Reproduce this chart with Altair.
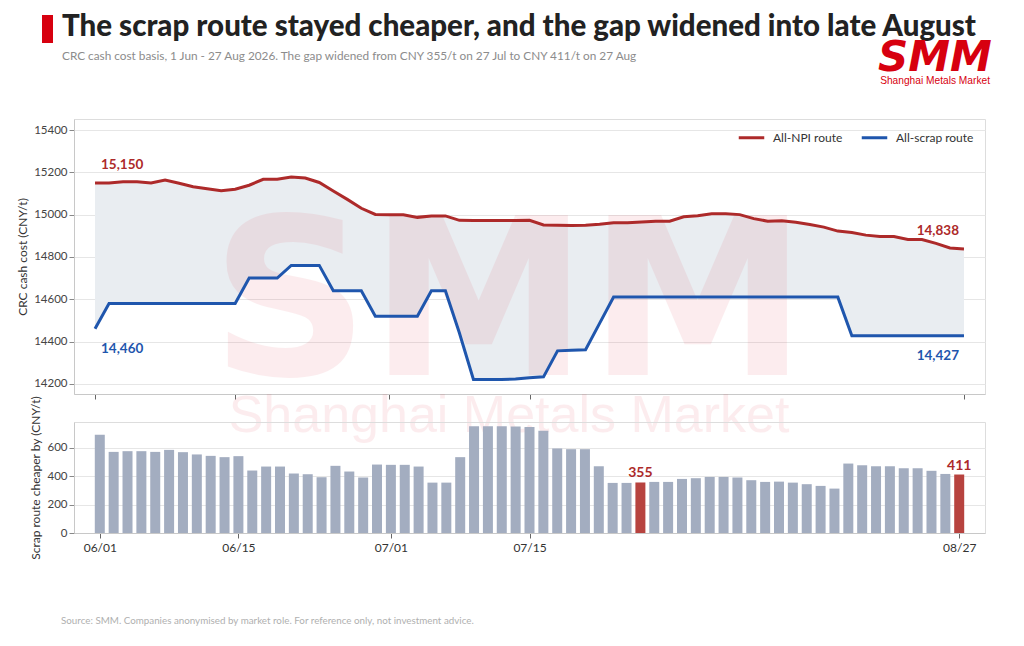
import altair as alt
import pandas as pd

# ---------------- data ----------------
trade_dates = [d for d in pd.bdate_range("2026-06-01", "2026-08-27")
               if d != pd.Timestamp("2026-06-19")]  # Dragon Boat holiday
date_labels = [d.strftime("%m/%d") for d in trade_dates]

npi = [15150, 15150, 15155, 15155, 15150, 15164, 15148, 15132, 15122, 15113, 15120,
       15139, 15167, 15167, 15178, 15173, 15152, 15112, 15072, 15030,
       15001, 14999, 14999, 14987, 14994, 14994, 14973,
       14972, 14972, 14972, 14972, 14973, 14951, 14950, 14948, 14950, 14955,
       14962, 14962, 14965, 14969, 14969, 14990, 14995, 15004, 15004, 15000,
       14981, 14969, 14971, 14964, 14953, 14941, 14922,
       14915, 14903, 14896, 14896, 14882, 14882, 14864, 14842, 14838]
scrap = [14460] + [14580] * 10 + [14700] * 3 + [14760] * 3 + [14640] * 3 + \
        [14520] * 4 + [14640] * 2 + [14440] + \
        [14221, 14221, 14221, 14223, 14229, 14233] + [14356, 14359, 14361] + \
        [14486] + [14610] * 17 + [14427] * 9

tick_labels = ["06/01", "06/15", "07/01", "07/15", "08/27"]
tick_idx = [date_labels.index(t) for t in tick_labels]
highlight_dates = ["07/27", "08/27"]
y_top_ticks = [14200, 14400, 14600, 14800, 15000, 15200, 15400]
y_bot_ticks = [0, 200, 400, 600]
series_names = ["All-NPI route", "All-scrap route"]

RED = "#ad2a2a"
BLUE = "#1f56ad"
BAR = "#a3adc0"
BAR_HI = "#b7433f"
AREA = "#e9edf1"
WM = "#dc1e32"
FONT = "Lato"

df = pd.DataFrame({"i": range(len(npi)), "date": date_labels,
                   "npi": npi, "scrap": scrap})
df["gap"] = df["npi"] - df["scrap"]
df["hi"] = df["date"].isin(highlight_dates)

long = pd.concat([
    pd.DataFrame({"i": df["i"], "value": df["npi"], "series": series_names[0]}),
    pd.DataFrame({"i": df["i"], "value": df["scrap"], "series": series_names[1]}),
])

first, last = 0, len(npi) - 1
end_labels = pd.DataFrame({
    "i": [first, first, last, last],
    "value": [npi[first], scrap[first], npi[last], scrap[last]],
    "series": [series_names[0], series_names[1], series_names[0], series_names[1]],
    "pos": ["s", "s", "e", "e"],
})
end_labels["label"] = end_labels["value"].map(lambda v: f"{v:,}")

label_expr = " : ".join(f"datum.value == {i} ? '{t}'" for i, t in zip(tick_idx, tick_labels)) + " : ''"

W = 911
H_TOP = 275
H_BOT = 111
xscale = alt.Scale(domain=[-1.5, len(npi) + 0.5], nice=False, zero=False)
yscale_top = alt.Scale(domain=[14152, 15452], nice=False, zero=False)
yscale_bot = alt.Scale(domain=[0, 780], nice=False, zero=True)
color_scale = alt.Scale(domain=series_names, range=[RED, BLUE])

axis_y_common = dict(gridColor="#e6e6e6", domainColor="#c8c8c8", tickColor="#888",
                     tickSize=5, labelFontSize=11.5, labelColor="#444", labelFont=FONT,
                     titleFontSize=12, titleFontWeight="normal", titleColor="#333",
                     titleFont=FONT, labelPadding=2, titlePadding=4, labelOverlap=False)

# ---------------- top panel ----------------
x_top = alt.X("i:Q", scale=xscale,
              axis=alt.Axis(values=tick_idx, labels=False, title=None, grid=False,
                            ticks=True, tickSize=5, tickColor="#666",
                            domainColor="#c8c8c8"))

area = alt.Chart(df).mark_area(color=AREA, opacity=1).encode(
    x=x_top,
    y=alt.Y("scrap:Q", scale=yscale_top,
            axis=alt.Axis(values=y_top_ticks, format="d", title="CRC cash cost (CNY/t)",
                          **axis_y_common)),
    y2="npi:Q",
)

wm_big = alt.Chart(pd.DataFrame({"t": ["SMM"]})).mark_text(
    font="DejaVu Sans", fontWeight="bold", fontSize=220, color=WM, opacity=0.08,
    align="center", baseline="alphabetic"
).encode(text="t:N", x=alt.value(435), y=alt.value(256))

wm_small = alt.Chart(pd.DataFrame({"t": ["Shanghai Metals Market"]})).mark_text(
    font="Liberation Sans", fontSize=52, color=WM, opacity=0.08,
    align="center", baseline="alphabetic"
).encode(text="t:N", x=alt.value(435), y=alt.value(313))

lines = alt.Chart(long).mark_line(strokeWidth=3).encode(
    x=x_top,
    y=alt.Y("value:Q", scale=yscale_top),
    color=alt.Color("series:N", scale=color_scale,
                    legend=alt.Legend(title=None, orient="none", legendX=663, legendY=4,
                                      direction="horizontal",
                                      symbolType="stroke", symbolStrokeWidth=3,
                                      symbolSize=650, labelFontSize=12, labelColor="#333",
                                      labelFont=FONT, columnPadding=12, labelOffset=7,
                                      padding=0)),
)


def end_text(pos, series, align, dx, dy):
    return alt.Chart(end_labels).transform_filter(
        (alt.datum.pos == pos) & (alt.datum.series == series)
    ).mark_text(font=FONT, fontWeight="bold", fontSize=13.5, align=align, dx=dx, dy=dy,
                baseline="alphabetic").encode(
        x=x_top, y=alt.Y("value:Q", scale=yscale_top),
        text="label:N",
        color=alt.Color("series:N", scale=color_scale, legend=None),
    )


lab1 = end_text("s", series_names[0], "left", 6, -14)
lab2 = end_text("s", series_names[1], "left", 6, 24)
lab3 = end_text("e", series_names[0], "right", -5, -14)
lab4 = end_text("e", series_names[1], "right", -5, 24)

red_bar = alt.Chart(pd.DataFrame({"t": ["x"]})).mark_rect(color="#d7000f").encode(
    x=alt.value(-32), x2=alt.value(-21), y=alt.value(-104), y2=alt.value(-76))
title = alt.Chart(pd.DataFrame({"t": ["The scrap route stayed cheaper, and the gap widened into late August"]})).mark_text(
    font=FONT, fontWeight=900, fontSize=29.5, color="#222", align="left", baseline="alphabetic"
).encode(text="t:N", x=alt.value(-12), y=alt.value(-83))
subtitle = alt.Chart(pd.DataFrame({"t": ["CRC cash cost basis, 1 Jun - 27 Aug 2026. The gap widened from CNY 355/t on 27 Jul to CNY 411/t on 27 Aug"]})).mark_text(
    font=FONT, fontSize=11.8, color="#8c8c8c", align="left", baseline="alphabetic"
).encode(text="t:N", x=alt.value(-12), y=alt.value(-59))
logo = alt.Chart(pd.DataFrame({"t": ["SMM"]})).mark_text(
    font="DejaVu Sans", fontWeight="bold", fontStyle="italic", fontSize=42, color="#d7000f",
    align="center", baseline="alphabetic"
).encode(text="t:N", x=alt.value(861), y=alt.value(-48))
logo_sub = alt.Chart(pd.DataFrame({"t": ["Shanghai Metals Market"]})).mark_text(
    font="Liberation Sans", fontSize=10.2, color="#d7000f", align="right", baseline="alphabetic"
).encode(text="t:N", x=alt.value(916), y=alt.value(-35))

top = alt.layer(area, wm_big, wm_small, lines, lab1, lab2, lab3, lab4,
                red_bar, title, subtitle, logo, logo_sub).properties(width=W, height=H_TOP)

# ---------------- bottom panel ----------------
x_bot = alt.X("i:Q", scale=xscale,
              axis=alt.Axis(values=tick_idx, labelExpr=label_expr, title=None, grid=False,
                            tickSize=5, tickColor="#666", domainColor="#c8c8c8",
                            labelFontSize=12, labelColor="#333", labelFont=FONT,
                            labelPadding=4, labelOverlap=False))
y_bot = alt.Y("gap:Q", scale=yscale_bot,
              axis=alt.Axis(values=y_bot_ticks, title="Scrap route cheaper by (CNY/t)",
                            **axis_y_common))

base_bot = alt.Chart(df).encode(x=x_bot, y=y_bot)
bars = base_bot.mark_bar(size=10).encode(
    color=alt.condition(alt.datum.hi, alt.value(BAR_HI), alt.value(BAR)),
)
bar_lab = base_bot.transform_filter(alt.datum.hi).mark_text(
    font=FONT, fontWeight="bold", fontSize=14, color=RED, align="center", dy=-9
).encode(text=alt.Text("gap:Q", format="d"))

foot = alt.Chart(pd.DataFrame({"t": ["Source: SMM. Companies anonymised by market role. For reference only, not investment advice."]})).mark_text(
    font=FONT, fontSize=9.8, color="#b0b0b0", align="left", baseline="alphabetic"
).encode(text="t:N", x=alt.value(-13), y=alt.value(202))

bottom = alt.layer(bars, bar_lab, foot).properties(width=W, height=H_BOT)

chart = alt.vconcat(top, bottom, spacing=28, bounds="flush").properties(
    padding={"left": 8, "top": 3, "right": 5, "bottom": 5}
).configure_view(stroke=None).configure(font=FONT)

chart.save("out.html", embed_options={"renderer": "svg", "actions": False})
